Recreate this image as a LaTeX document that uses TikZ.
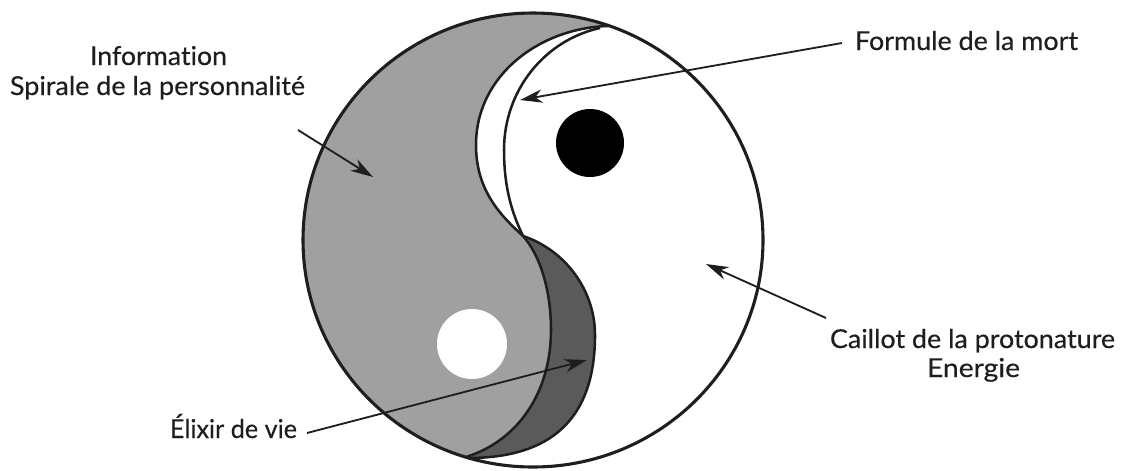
\documentclass[tikz,border=0pt]{standalone}
\usepackage{fontspec}
\setmainfont{Lato}[Ligatures=NoCommon]
\newfontface\lblfont{Lato}[FakeBold=0.35, Ligatures=NoCommon]
\usetikzlibrary{arrows.meta}
\definecolor{lgray}{HTML}{A0A0A0}
\definecolor{dgray}{HTML}{5A5A5A}
\definecolor{ink}{HTML}{1E1E1E}
\newcommand{\fitw}[2]{\resizebox{#1}{\height}{#2}}
\begin{document}
\begin{tikzpicture}[x=0.025cm,y=-0.025cm,
  outline/.style={line width=2.2pt, line join=round, draw=ink},
  inner/.style={line width=1.8pt, line join=round, draw=ink},
  arr/.style={line width=1.3pt, draw=ink, -{Stealth[length=16pt,width=9.5pt,inset=5pt]}},
  lbl/.style={font=\lblfont\fontsize{18.5}{22}\selectfont, text=ink, inner sep=0pt, anchor=base}]
\useasboundingbox (0,0) rectangle (1122,470);
% light gray (yin) region
\fill[lgray] plot[domain=-71:-253, samples=90, variable=\t] ({533+230*cos(\t)},{240+227*sin(\t)})
  -- (466,457) .. controls (520,440) and (551,390) .. (551,330)
  .. controls (551,290) and (540,255) .. (523,236)
  .. controls (500,215) and (476,190) .. (476,145)
  .. controls (476,75) and (540,28) .. (608,26) -- cycle;
% dark crescent
\fill[dgray] (523,236) .. controls (540,255) and (551,290) .. (551,330)
  .. controls (551,390) and (520,440) .. (466,457)
  -- (468,458) .. controls (560,458) and (595,410) .. (595,335)
  .. controls (595,290) and (565,250) .. (523,236) -- cycle;
% outlines
\draw[outline] (533,240) ellipse [x radius=230, y radius=227];
\draw[inner] (608,26) .. controls (540,28) and (476,75) .. (476,145)
  .. controls (476,190) and (500,215) .. (523,236);
\draw[inner] (600,28) .. controls (545,40) and (504,90) .. (504,150)
  .. controls (504,190) and (513,215) .. (523,236);
\draw[inner] (523,236) .. controls (540,255) and (551,290) .. (551,330)
  .. controls (551,390) and (520,440) .. (466,457);
\draw[inner] (523,236) .. controls (565,250) and (595,290) .. (595,335)
  .. controls (595,410) and (560,458) .. (468,458);
% dots
\fill[black] (590,143) circle [radius=34];
\fill[white] (472,344) circle [radius=35];
% labels
\node[lbl] (info1) at (158.5,65) {\fitw{3.425cm}{Information}};
\node[lbl] (info2) at (157.5,95) {\fitw{7.375cm}{Spirale de la personnalité}};
\node[lbl] (mort) at (966.5,50) {\fitw{5.575cm}{Formule de la mort}};
\node[lbl] (caillot1) at (972.5,348) {\fitw{7.125cm}{Caillot de la protonature}};
\node[lbl] (caillot2) at (973.5,377) {\fitw{2.325cm}{Energie}};
\node[lbl] (elixir) at (233.5,438) {\fitw{3.175cm}{Élixir de vie}};
% arrow ends
\coordinate (infoTail) at (298,130);
\coordinate (infoTip) at (373,177);
\coordinate (mortTail) at (842,43);
\coordinate (mortTip) at (520,100);
\coordinate (caillotTail) at (826,318);
\coordinate (caillotTip) at (706,264);
\coordinate (elixirTail) at (307,433);
\coordinate (elixirTip) at (587,360);
\draw[arr] (infoTail) -- (infoTip);
\draw[arr] (mortTail) -- (mortTip);
\draw[arr] (caillotTail) -- (caillotTip);
\draw[arr] (elixirTail) -- (elixirTip);
\end{tikzpicture}
\end{document}
